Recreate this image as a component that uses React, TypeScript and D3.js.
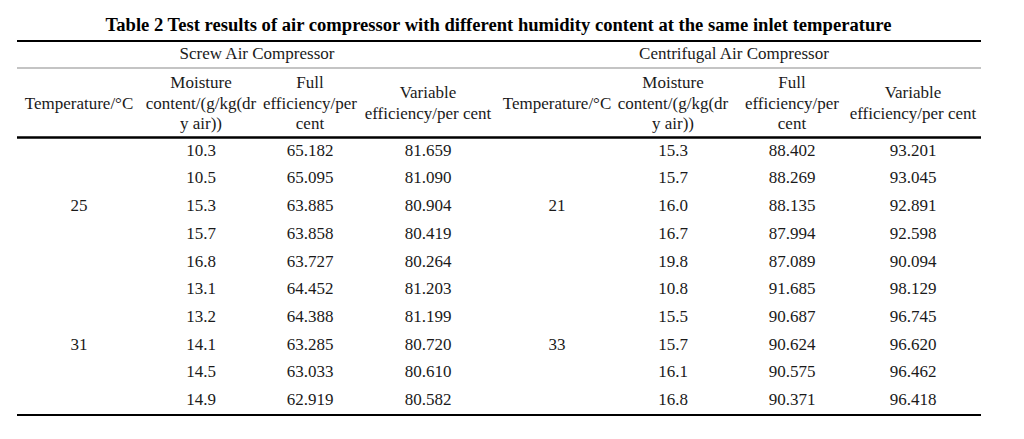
import React from 'react';
import * as d3 from 'd3';

const title = 'Table 2 Test results of air compressor with different humidity content at the same inlet temperature';
const groupTitles = ['Screw Air Compressor', 'Centrifugal Air Compressor'];
const headerLines = [
  ['Temperature/°C'],
  ['Moisture', 'content/(g/kg(dr', 'y air))'],
  ['Full', 'efficiency/per', 'cent'],
  ['Variable', 'efficiency/per cent'],
];

// screw air compressor
const screwTemps = ['25', '31'];
const screwMoisture = [10.3, 10.5, 15.3, 15.7, 16.8, 13.1, 13.2, 14.1, 14.5, 14.9];
const screwFull = [65.182, 65.095, 63.885, 63.858, 63.727, 64.452, 64.388, 63.285, 63.033, 62.919];
const screwVariable = [81.659, 81.09, 80.904, 80.419, 80.264, 81.203, 81.199, 80.72, 80.61, 80.582];

// centrifugal air compressor
const centTemps = ['21', '33'];
const centMoisture = [15.3, 15.7, 16.0, 16.7, 19.8, 10.8, 15.5, 15.7, 16.1, 16.8];
const centFull = [88.402, 88.269, 88.135, 87.994, 87.089, 91.685, 90.687, 90.624, 90.575, 90.371];
const centVariable = [93.201, 93.045, 92.891, 92.598, 90.094, 98.129, 96.745, 96.62, 96.462, 96.418];

const width = 1024;
const height = 439;
const left = 17;
const right = 981;
const colWidths = [124, 120, 98, 138, 120, 112, 126, 116];
const font = '"Liberation Serif", "Times New Roman", serif';
const textColor = '#1a1a1a';

export default function App() {
  const edges = d3.cumsum([0, ...colWidths]);
  const xEdge = d3.scaleLinear().domain([0, right - left]).range([left, right]);
  const colX = (i: number) => xEdge((edges[i] + edges[i + 1]) / 2);

  const rowY = d3.scaleLinear().domain([0, 9]).range([150, 399.3]);
  const lineGap = 20.5;
  const headerMid = 108.5; // baseline of the middle header line

  const groups = [
    { temps: screwTemps, cols: [screwMoisture, screwFull, screwVariable], offset: 0 },
    { temps: centTemps, cols: [centMoisture, centFull, centVariable], offset: 4 },
  ];

  const fs = 17;
  const dy = fs * 0.34;

  return (
    <svg width={width} height={height} style={{ position: 'absolute', left: 0, top: 0, background: '#fff' }}
      fontFamily={font} fill={textColor}>
      <text x={498.5} y={31} textAnchor="middle" fontSize={18.6} fontWeight="bold" fill="#000">{title}</text>
      <line x1={left} x2={right} y1={41} y2={41} stroke="#000" strokeWidth={1.8} />
      <line x1={left} x2={right} y1={68} y2={68} stroke="#8a8a8a" strokeWidth={1.2} />
      <line x1={left} x2={right} y1={137.5} y2={137.5} stroke="#000" strokeWidth={2.4} />
      <line x1={left} x2={right} y1={415} y2={415} stroke="#000" strokeWidth={2} />

      {groups.map((g, gi) => {
        const gx = (xEdge(edges[g.offset]) + xEdge(edges[g.offset + 4])) / 2;
        return (
          <g key={gi} fontSize={fs}>
            <text x={gx} y={53 + dy} textAnchor="middle">{groupTitles[gi]}</text>
            {headerLines.map((lines, ci) => {
              const x = colX(g.offset + ci);
              const y0 = headerMid - ((lines.length - 1) * lineGap) / 2;
              return (
                <text key={ci} x={x} textAnchor="middle">
                  {lines.map((t, li) => (
                    <tspan key={li} x={x} y={y0 + li * lineGap}>{t}</tspan>
                  ))}
                </text>
              );
            })}
            {g.temps.map((t, ti) => (
              <text key={'t' + ti} x={colX(g.offset)} y={rowY(ti * 5 + 2) + dy} textAnchor="middle">{t}</text>
            ))}
            {g.cols.map((vals, ci) =>
              vals.map((v, ri) => (
                <text key={ci + '-' + ri} x={colX(g.offset + ci + 1)} y={rowY(ri) + dy} textAnchor="middle">
                  {ci === 0 ? d3.format('.1f')(v) : d3.format('.3f')(v)}
                </text>
              ))
            )}
          </g>
        );
      })}
    </svg>
  );
}
